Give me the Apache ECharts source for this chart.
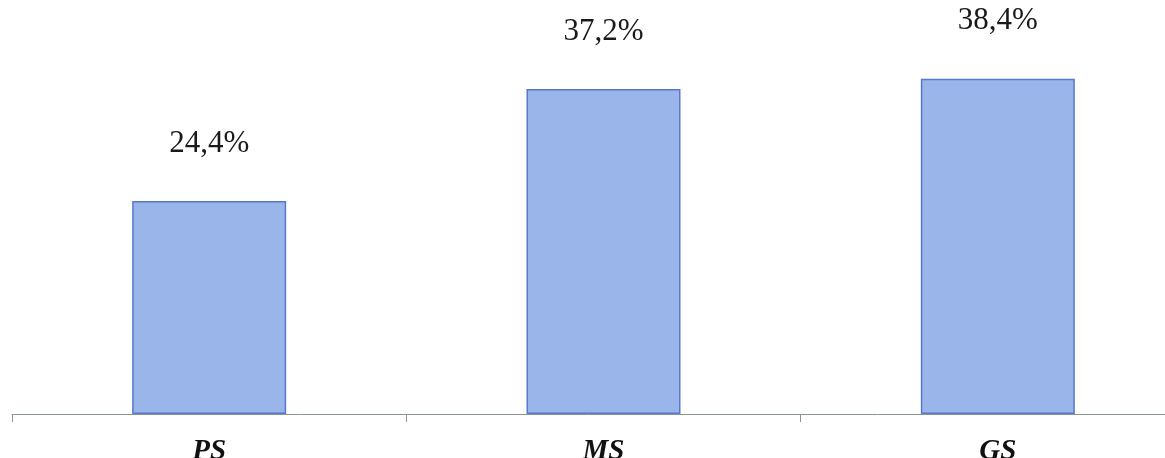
<!DOCTYPE html>
<html>
<head>
<meta charset="utf-8">
<style>
  html, body { margin: 0; padding: 0; background: #ffffff; }
  #chart { width: 1165px; height: 458px; }
</style>
<script src="https://cdn.jsdelivr.net/npm/echarts@6/dist/echarts.min.js"></script>
</head>
<body>
<div id="chart"></div>
<script>
// School level categories and their shares (%)
const categories = ['PS', 'MS', 'GS'];
const shares = [24.4, 37.2, 38.4];

const chart = echarts.init(document.getElementById('chart'), null, { renderer: 'canvas' });

const serif = '"Liberation Serif", "DejaVu Serif", serif';

chart.setOption({
  animation: false,
  backgroundColor: '#ffffff',
  // the axis runs past the right edge of the canvas
  grid: {
    left: 12, width: 1183, top: 21, bottom: 44,
    containLabel: false,
    outerBoundsMode: 'none'
  },
  xAxis: {
    type: 'category',
    data: categories,
    boundaryGap: true,
    axisLine: { show: true, lineStyle: { color: '#8a978f', width: 1 } },
    axisTick: { show: true, alignWithLabel: false, length: 8, lineStyle: { color: '#8a978f', width: 1 } },
    axisLabel: {
      margin: 23,
      color: '#111111',
      fontFamily: serif,
      fontStyle: 'italic',
      fontWeight: 'bold',
      fontSize: 29
    }
  },
  yAxis: {
    type: 'value',
    min: 0,
    max: 45,
    show: false,
    splitLine: { show: false }
  },
  series: [{
    type: 'bar',
    data: shares,
    barWidth: 154,
    itemStyle: {
      color: '#9ab5ea',
      borderColor: '#5878cc',
      borderWidth: 1.5
    },
    label: {
      show: true,
      position: 'top',
      distance: 42,
      color: '#1a1a1a',
      fontFamily: serif,
      fontSize: 31,
      formatter: p => p.value.toFixed(1).replace('.', ',') + '%'
    }
  }]
});
</script>
</body>
</html>
